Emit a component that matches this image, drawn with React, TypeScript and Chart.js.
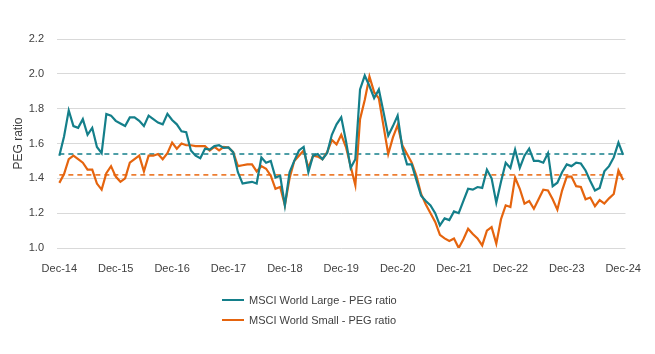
import React, { useEffect, useRef } from "react";
import { Chart, registerables } from "chart.js";

Chart.register(...registerables);

const MONTHS = ["Jan", "Feb", "Mar", "Apr", "May", "Jun", "Jul", "Aug", "Sep", "Oct", "Nov", "Dec"];
const categories: string[] = [];
for (let y = 2014; y <= 2024; y++) {
  for (let m = 0; m < 12; m++) {
    if (y === 2014 && m < 11) continue;
    if (y === 2024 && m > 11) continue;
    categories.push(`${MONTHS[m]}-${String(y).slice(2)}`);
  }
}

const largePEG = [
  1.53, 1.64, 1.79, 1.70, 1.69, 1.74, 1.65, 1.69, 1.58, 1.545, 1.77, 1.76,
  1.73, 1.715, 1.70, 1.75, 1.75, 1.73, 1.70, 1.76, 1.74, 1.72, 1.71, 1.77,
  1.735, 1.71, 1.67, 1.665, 1.56, 1.53, 1.515, 1.57, 1.565, 1.585, 1.59, 1.575,
  1.577, 1.55, 1.435, 1.37, 1.375, 1.38, 1.37, 1.52, 1.49, 1.50, 1.405, 1.415,
  1.245, 1.435, 1.50, 1.56, 1.58, 1.435, 1.53, 1.54, 1.51, 1.545, 1.65, 1.71,
  1.75, 1.615, 1.46, 1.51, 1.91, 1.99, 1.93, 1.86, 1.91, 1.78, 1.645, 1.70,
  1.76, 1.575, 1.48, 1.48, 1.39, 1.30, 1.27, 1.245, 1.20, 1.13, 1.17, 1.16,
  1.21, 1.20, 1.27, 1.34, 1.335, 1.35, 1.345, 1.45, 1.40, 1.26, 1.38, 1.49,
  1.46, 1.565, 1.46, 1.53, 1.57, 1.50, 1.50, 1.49, 1.545, 1.355, 1.375, 1.435,
  1.48, 1.47, 1.49, 1.485, 1.445, 1.385, 1.33, 1.345, 1.44, 1.47, 1.52, 1.605,
  1.535,
];

const smallPEG = [
  1.374, 1.425, 1.51, 1.53, 1.51, 1.49, 1.45, 1.45, 1.37, 1.335, 1.43, 1.47,
  1.41, 1.38, 1.40, 1.49, 1.51, 1.53, 1.44, 1.53, 1.53, 1.54, 1.51, 1.545,
  1.605, 1.57, 1.60, 1.59, 1.59, 1.585, 1.585, 1.585, 1.56, 1.58, 1.56, 1.58,
  1.577, 1.55, 1.47, 1.475, 1.48, 1.48, 1.44, 1.47, 1.455, 1.415, 1.34, 1.35,
  1.245, 1.40, 1.50, 1.53, 1.56, 1.46, 1.53, 1.525, 1.51, 1.55, 1.62, 1.595,
  1.65, 1.58, 1.47, 1.36, 1.74, 1.85, 1.985, 1.895, 1.86, 1.70, 1.54, 1.635,
  1.705, 1.59, 1.54, 1.49, 1.415, 1.31, 1.25, 1.20, 1.15, 1.075, 1.055, 1.04,
  1.055, 1.00, 1.05, 1.11, 1.08, 1.055, 1.015, 1.10, 1.12, 1.025, 1.165, 1.245,
  1.235, 1.405, 1.34, 1.255, 1.27, 1.225, 1.28, 1.335, 1.33, 1.28, 1.22, 1.33,
  1.41, 1.41, 1.355, 1.35, 1.28, 1.29, 1.24, 1.275, 1.255, 1.285, 1.31, 1.445,
  1.39,
];

const LARGE_AVG = 1.54;
const SMALL_AVG = 1.42;
const yTicks = [1.0, 1.2, 1.4, 1.6, 1.8, 2.0, 2.2];
const seriesNames = ["MSCI World Large - PEG ratio", "MSCI World Small - PEG ratio"];

const TEAL = "#147F8A";
const ORANGE = "#E5640E";
const ORANGE_DASH = "#ED7D31";
const FONT = "'Liberation Sans', Arial, sans-serif";
const TEXT = "#404040";

export default function App() {
  const ref = useRef<HTMLCanvasElement | null>(null);
  useEffect(() => {
    document.body.style.margin = "0";
    if (!ref.current) return;
    const chart = new Chart(ref.current, {
      type: "line",
      data: {
        labels: categories,
        datasets: [
          {
            label: seriesNames[0],
            data: largePEG,
            borderColor: TEAL,
            backgroundColor: TEAL,
            borderWidth: 2.2,
            pointRadius: 0,
            tension: 0,
          },
          {
            label: seriesNames[1],
            data: smallPEG,
            borderColor: ORANGE,
            backgroundColor: ORANGE,
            borderWidth: 2.2,
            pointRadius: 0,
            tension: 0,
          },
          {
            label: "avgLarge",
            data: categories.map(() => LARGE_AVG),
            borderColor: TEAL,
            borderWidth: 1.6,
            borderDash: [5, 4],
            pointRadius: 0,
          },
          {
            label: "avgSmall",
            data: categories.map(() => SMALL_AVG),
            borderColor: ORANGE_DASH,
            borderWidth: 1.6,
            borderDash: [5, 4],
            pointRadius: 0,
          },
        ],
      },
      options: {
        animation: false,
        responsive: true,
        maintainAspectRatio: false,
        layout: { padding: { top: 39, right: 29, bottom: 69, left: 0 } },
        plugins: {
          tooltip: { enabled: false },
          legend: { display: false },
        },
        scales: {
          x: {
            type: "category",
            offset: true,
            grid: { display: false, drawTicks: false },
            border: { display: false },
            afterFit: (scale: any) => {
              scale.height = 37;
            },
            ticks: {
              autoSkip: false,
              maxRotation: 0,
              padding: 14,
              color: TEXT,
              font: { family: FONT, size: 11 },
              callback: (_v: any, i: number) => (i % 12 === 0 ? categories[i] : null),
            },
          },
          y: {
            min: 1.0,
            max: 2.2,
            afterFit: (scale: any) => {
              scale.width = 57;
            },
            afterBuildTicks: (scale: any) => {
              scale.ticks = yTicks.map((v) => ({ value: v }));
            },
            grid: { color: "#D9D9D9", lineWidth: 1, drawTicks: false },
            border: { display: false },
            title: {
              display: true,
              text: "PEG ratio",
              color: TEXT,
              font: { family: FONT, size: 12 },
              padding: { top: 11, bottom: 0 },
            },
            ticks: {
              padding: 13,
              color: TEXT,
              font: { family: FONT, size: 11 },
              callback: (v: any) => Number(v).toFixed(1),
            },
          },
        },
      },
    });
    return () => chart.destroy();
  }, []);
  const colors = [TEAL, ORANGE];
  return (
    <div style={{ width: 655, height: 354, position: "relative" }}>
      <canvas ref={ref} />
      <div
        style={{
          position: "absolute",
          left: 222,
          top: 290,
          fontFamily: FONT,
          fontSize: 11,
          color: TEXT,
          lineHeight: "20px",
        }}
      >
        {seriesNames.map((name, i) => (
          <div key={name} style={{ display: "flex", alignItems: "center", height: 20 }}>
            <span
              style={{
                display: "inline-block",
                width: 22,
                height: 2.5,
                background: colors[i],
                marginRight: 5,
              }}
            />
            <span>{name}</span>
          </div>
        ))}
      </div>
    </div>
  );
}
